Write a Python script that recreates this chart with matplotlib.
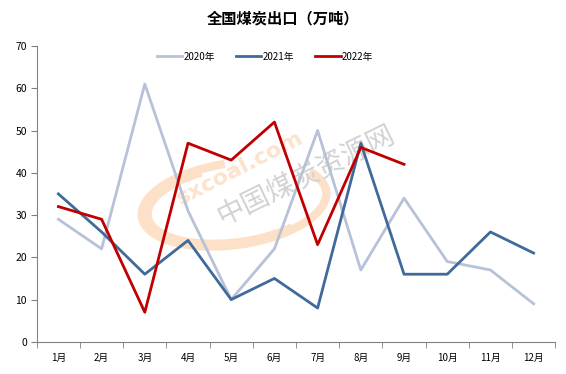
import matplotlib.pyplot as plt
from matplotlib.patches import Arc

plt.rcParams['font.family'] = ['Noto Sans CJK SC', 'DejaVu Sans']

months = ['1月', '2月', '3月', '4月', '5月', '6月', '7月', '8月', '9月', '10月', '11月', '12月']
y2020 = [29, 22, 61, 31, 10, 22, 50, 17, 34, 19, 17, 9]
y2021 = [35, 26, 16, 24, 10, 15, 8, 47, 16, 16, 26, 21]
y2022 = [32, 29, 7, 47, 43, 52, 23, 46, 42]

W, H = 566, 374
fig = plt.figure(figsize=(W / 100, H / 100), dpi=100)
ax = fig.add_axes([0.065, 0.086, 0.916, 0.791])

# 水印（像素坐标）
ax.add_patch(Arc((234, H - 204), 186, 82, angle=8, theta1=95, theta2=375,
                 color='#FCE0C8', lw=6, transform=None, zorder=0))
ax.add_patch(Arc((236, H - 204), 177, 75, angle=8, theta1=130, theta2=330,
                 color='#FCE0C8', lw=5, transform=None, zorder=0))
ax.text(240, H - 168, 'sxcoal.com', rotation=27, fontsize=16, color='#FCE3CD',
        fontweight='bold', ha='center', va='center', family='DejaVu Sans',
        transform=None, zorder=0)
ax.text(306, H - 176, '中国煤炭资源网', rotation=26, fontsize=20, color='#D2D2D2',
        fontweight='light', ha='center', va='center', transform=None, zorder=0)

x = list(range(len(months)))
ax.plot(x, y2020, color='#B7C2D7', lw=2.0, label='2020年')
ax.plot(x, y2021, color='#3F6A9B', lw=2.0, label='2021年')
ax.plot(x[:len(y2022)], y2022, color='#C00000', lw=2.0, label='2022年')

ax.set_xlim(-0.5, 11.5)
ax.set_ylim(0, 70)
ax.set_yticks(range(0, 71, 10))
ax.set_xticks(x)
ax.set_xticklabels(months)
ax.set_xticks([i - 0.5 for i in range(13)], minor=True)
ax.tick_params(axis='x', which='major', length=0, labelsize=7, pad=8)
ax.tick_params(axis='x', which='minor', length=4, color='#808080', direction='out')
ax.tick_params(axis='y', length=4, color='#808080', labelsize=7.5, pad=3)

for s in ['top', 'right']:
    ax.spines[s].set_visible(False)
for s in ['left', 'bottom']:
    ax.spines[s].set_color('#808080')
    ax.spines[s].set_linewidth(0.8)

ax.legend(loc='upper center', bbox_to_anchor=(0.44, 1.01), ncol=3, frameon=False,
          fontsize=7, handlelength=2.6, columnspacing=2.2, handletextpad=0.1)

fig.text(0.5, 0.95, '全国煤炭出口（万吨）', ha='center', va='center',
         fontsize=11, fontweight='bold')

plt.savefig('out.png', dpi=100)
